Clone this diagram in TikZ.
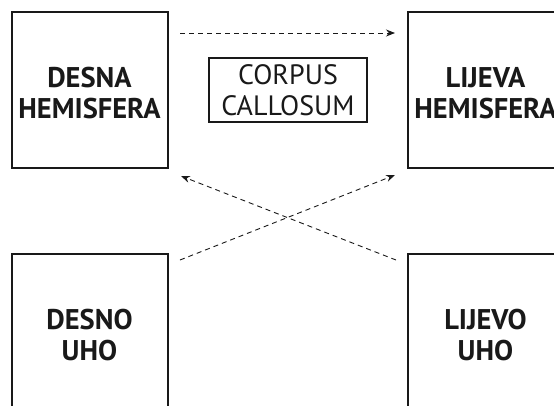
\documentclass[tikz,border=0pt]{standalone}
\usepackage{fontspec}
\setmainfont{PT Sans}
\usetikzlibrary{arrows.meta}
\begin{document}
\begin{tikzpicture}[x=1pt,y=-1pt,
  bigbox/.style={draw=black!90,line width=2pt,minimum width=156pt,minimum height=156pt,inner sep=0pt,align=center,font=\bfseries\fontsize{28.5}{30.5}\selectfont,text=black!90},
  cbox/.style={draw=black!90,line width=1.6pt,minimum width=158pt,minimum height=64pt,inner sep=0pt,align=center,font=\fontsize{28}{31}\selectfont,text=black!90},
  conn/.style={draw=black!90,line width=0.9pt,dash pattern=on 5pt off 4pt,-{Stealth[length=9pt,width=7pt]}}]
\useasboundingbox[fill=white] (0,0) rectangle (554,405);
\node[bigbox] (dh) at (89.5,90) {};
\node[bigbox] (lh) at (485.5,90) {};
\node[bigbox] (du) at (89.5,332) {};
\node[bigbox] (lu) at (485.5,332) {};
\node[bigbox,draw=none,minimum size=0pt] (dht) at ([yshift=-3pt]dh.center) {DESNA\\HEMISFERA};
\node[bigbox,draw=none,minimum size=0pt] (lht) at ([yshift=-3pt]lh.center) {LIJEVA\\HEMISFERA};
\node[bigbox,draw=none,minimum size=0pt] (dut) at ([yshift=-3pt]du.center) {DESNO\\UHO};
\node[bigbox,draw=none,minimum size=0pt] (lut) at ([yshift=-3pt]lu.center) {LIJEVO\\UHO};
\node[cbox] (cc) at (288,90) {CORPUS\\CALLOSUM};
\coordinate (a1s) at (180,33);
\coordinate (a1e) at (395,33);
\coordinate (a2s) at (180,260);
\coordinate (a2e) at (395,175);
\coordinate (a3s) at (396,260);
\coordinate (a3e) at (181,176);
\draw[conn] (a1s) -- (a1e);
\draw[conn] (a2s) -- (a2e);
\draw[conn] (a3s) -- (a3e);
\end{tikzpicture}
\end{document}
